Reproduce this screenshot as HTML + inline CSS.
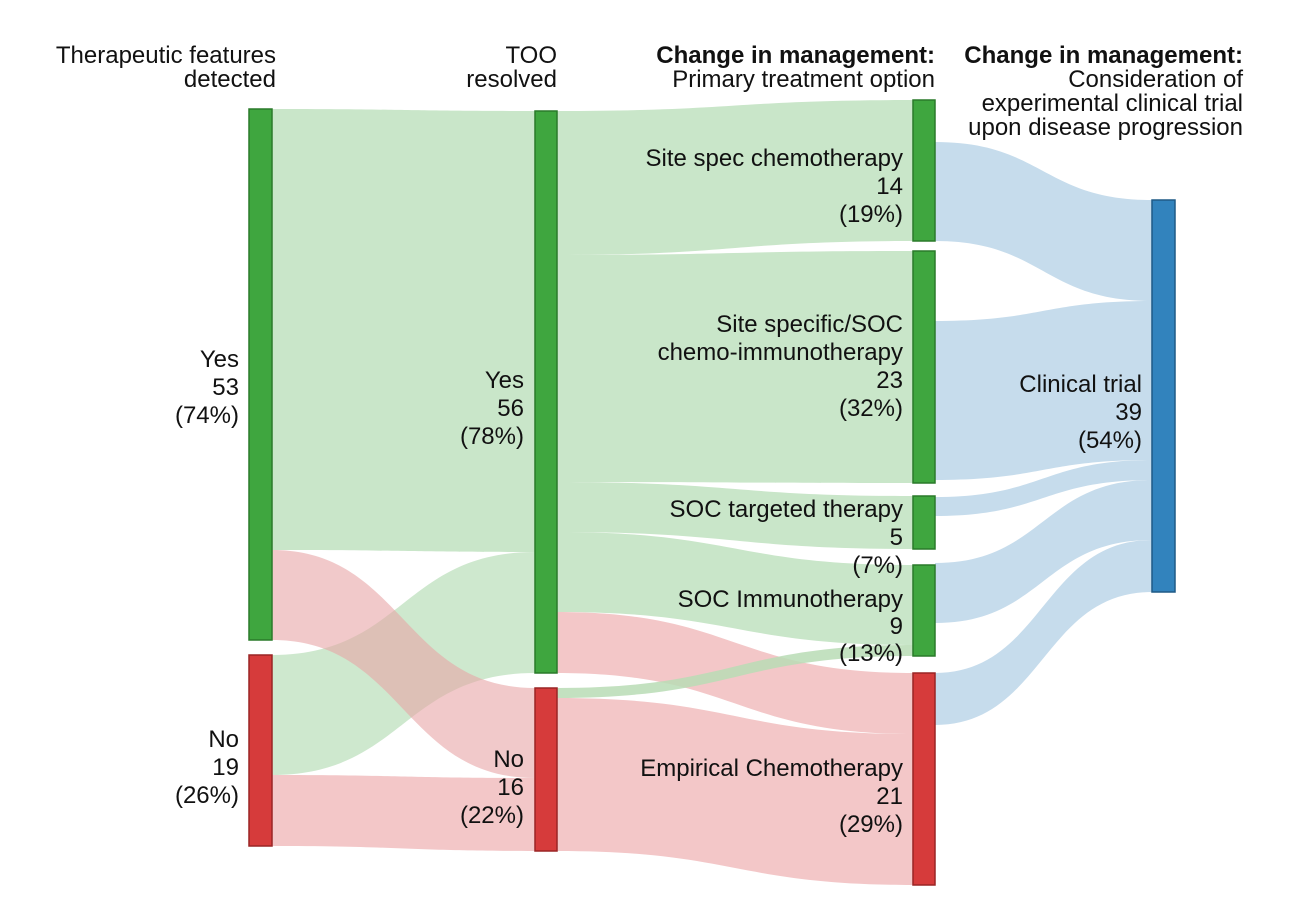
<!DOCTYPE html>
<html><head><style>
body{margin:0;background:#fff;}
text{font-family:"Liberation Sans",sans-serif;font-size:24px;fill:#111;}
.b{font-weight:bold;}
</style></head><body>
<svg width="1313" height="896" xmlns="http://www.w3.org/2000/svg">
<g id="links">
<path d="M272,109 C403,109 403,111 535,111 L535,552 C403,552 403,550 272,550Z" fill="#c9e6c9"/>
<path d="M272,655 C403,655 403,552 535,552 L535,673 C403,673 403,775 272,775Z" fill="#c9e6c9" fill-opacity="0.9"/>
<path d="M272,550 C403,550 403,688 535,688 L535,778 C403,778 403,640 272,640Z" fill="#e8a5a7" fill-opacity="0.6"/>
<path d="M272,775 C403,775 403,778 535,778 L535,851 C403,851 403,846 272,846Z" fill="#f3c7c8"/>
<path d="M557,111 C735,111 735,100 913,100 L913,241 C735,241 735,255 557,255Z" fill="#c9e6c9"/>
<path d="M557,255 C735,255 735,251 913,251 L913,483 C735,483 735,482 557,482Z" fill="#c9e6c9"/>
<path d="M557,482 C735,482 735,496 913,496 L913,549 C735,549 735,532 557,532Z" fill="#c9e6c9"/>
<path d="M557,532 C735,532 735,565 913,565 L913,645 C735,645 735,612 557,612Z" fill="#c9e6c9"/>
<path d="M557,612 C735,612 735,673 913,673 L913,734 C735,734 735,673 557,673Z" fill="#f3c7c8"/>
<path d="M557,698 C735,698 735,734 913,734 L913,885 C735,885 735,851 557,851Z" fill="#f3c7c8"/>
<path d="M557,688 C735,688 735,645 913,645 L913,656 C735,656 735,698 557,698Z" fill="#b9dcb5" fill-opacity="0.85"/>
<path d="M935,142 C1043,142 1043,200 1152,200 L1152,301 C1043,301 1043,241 935,241Z" fill="#c6dcec"/>
<path d="M935,321 C1043,321 1043,301 1152,301 L1152,460 C1043,460 1043,480 935,480Z" fill="#c6dcec"/>
<path d="M935,497 C1043,497 1043,460 1152,460 L1152,480 C1043,480 1043,516 935,516Z" fill="#c6dcec"/>
<path d="M935,563 C1043,563 1043,480 1152,480 L1152,540 C1043,540 1043,623 935,623Z" fill="#c6dcec"/>
<path d="M935,673 C1043,673 1043,540 1152,540 L1152,592 C1043,592 1043,725 935,725Z" fill="#c6dcec"/>
</g>
<g stroke-width="1.5">
<rect x="249" y="109" width="23" height="531" fill="#3fa63f" stroke="#2a7a2a"/>
<rect x="249" y="655" width="23" height="191" fill="#d63b3b" stroke="#9a2525"/>
<rect x="535" y="111" width="22" height="562" fill="#3fa63f" stroke="#2a7a2a"/>
<rect x="535" y="688" width="22" height="163" fill="#d63b3b" stroke="#9a2525"/>
<rect x="913" y="100" width="22" height="141" fill="#3fa63f" stroke="#2a7a2a"/>
<rect x="913" y="251" width="22" height="232" fill="#3fa63f" stroke="#2a7a2a"/>
<rect x="913" y="496" width="22" height="53" fill="#3fa63f" stroke="#2a7a2a"/>
<rect x="913" y="565" width="22" height="91" fill="#3fa63f" stroke="#2a7a2a"/>
<rect x="913" y="673" width="22" height="212" fill="#d63b3b" stroke="#9a2525"/>
<rect x="1152" y="200" width="23" height="392" fill="#3283bd" stroke="#1f5a86"/>
</g>
<g text-anchor="end">
<text x="276" y="63">Therapeutic features</text><text x="276" y="87">detected</text>
<text x="557" y="63">TOO</text><text x="557" y="87">resolved</text>
<text x="935" y="63" class="b">Change in management:</text><text x="935" y="87">Primary treatment option</text>
<text x="1243" y="63" class="b">Change in management:</text><text x="1243" y="87">Consideration of</text>
<text x="1243" y="111">experimental clinical trial</text><text x="1243" y="135">upon disease progression</text>

<text x="239" y="367">Yes</text><text x="239" y="395">53</text><text x="239" y="423">(74%)</text>
<text x="239" y="747">No</text><text x="239" y="775">19</text><text x="239" y="803">(26%)</text>
<text x="524" y="388">Yes</text><text x="524" y="416">56</text><text x="524" y="444">(78%)</text>
<text x="524" y="767">No</text><text x="524" y="795">16</text><text x="524" y="823">(22%)</text>
<text x="903" y="166">Site spec chemotherapy</text><text x="903" y="194">14</text><text x="903" y="222">(19%)</text>
<text x="903" y="332">Site specific/SOC</text><text x="903" y="360">chemo-immunotherapy</text><text x="903" y="388">23</text><text x="903" y="416">(32%)</text>
<text x="903" y="517">SOC targeted therapy</text><text x="903" y="545">5</text><text x="903" y="573">(7%)</text>
<text x="903" y="607">SOC Immunotherapy</text><text x="903" y="634">9</text><text x="903" y="661">(13%)</text>
<text x="903" y="776">Empirical Chemotherapy</text><text x="903" y="804">21</text><text x="903" y="832">(29%)</text>
<text x="1142" y="392">Clinical trial</text><text x="1142" y="420">39</text><text x="1142" y="448">(54%)</text>
</g>
</svg>
</body></html>
